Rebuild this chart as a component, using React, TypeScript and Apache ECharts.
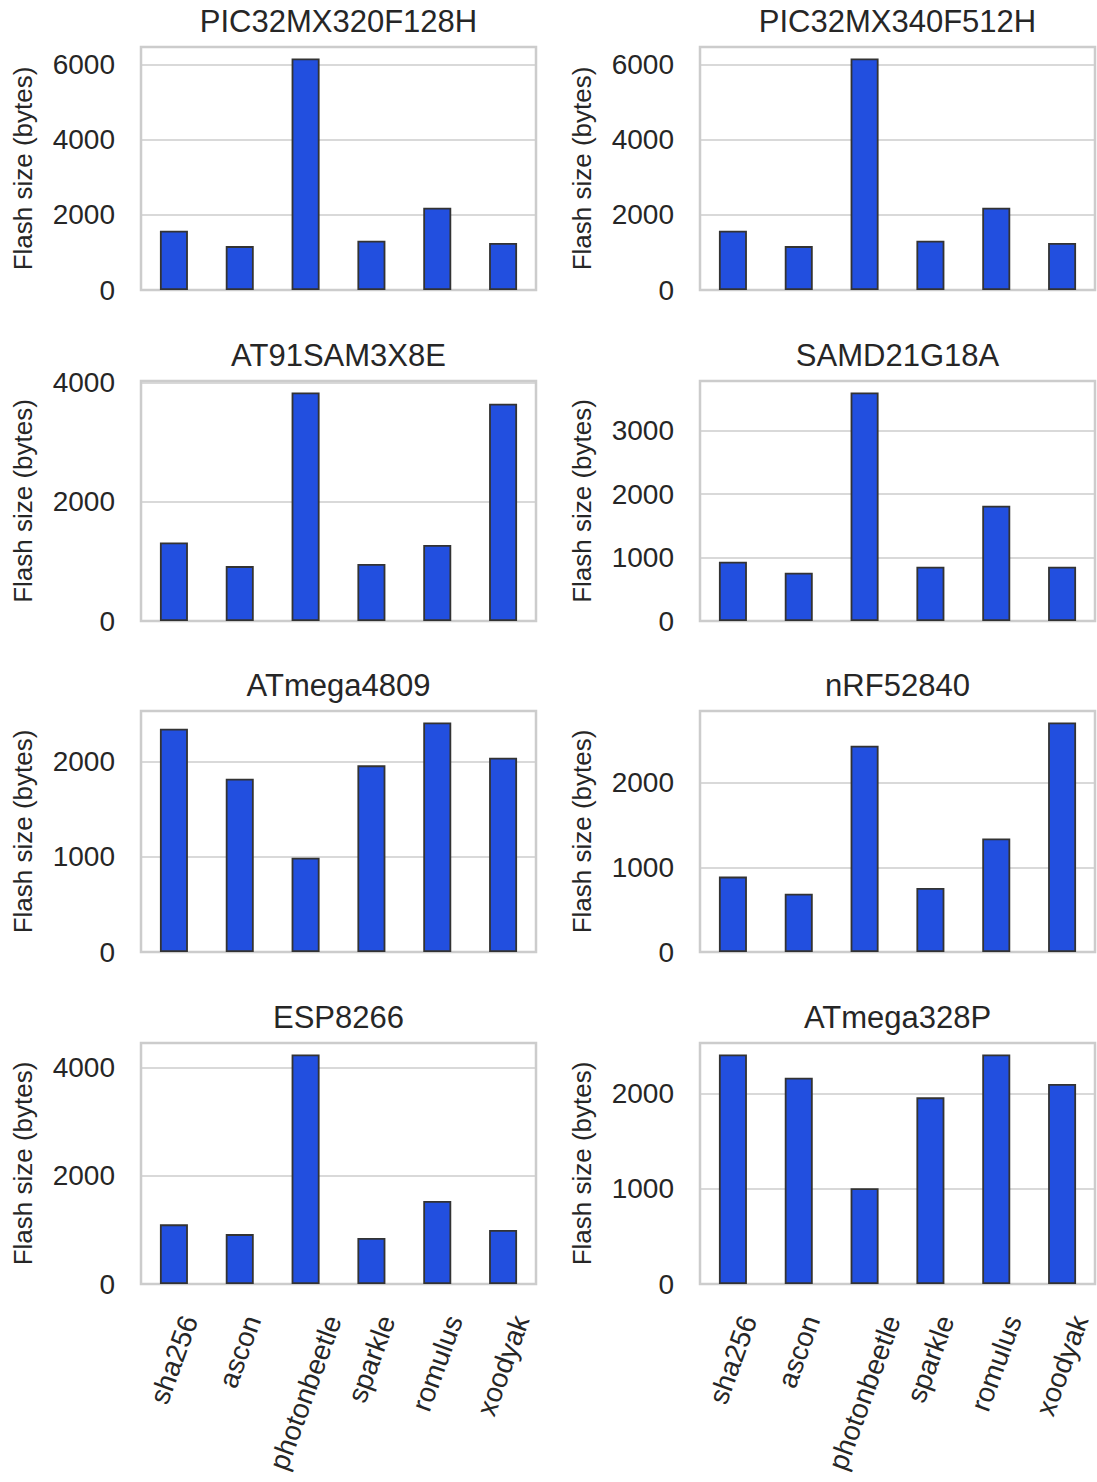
import React, { useEffect, useRef } from 'react';
import * as echarts from 'echarts';

// ---- data ----
const categories = ['sha256', 'ascon', 'photonbeetle', 'sparkle', 'romulus', 'xoodyak'];
const boards = [
  'PIC32MX320F128H',
  'PIC32MX340F512H',
  'AT91SAM3X8E',
  'SAMD21G18A',
  'ATmega4809',
  'nRF52840',
  'ESP8266',
  'ATmega328P',
];
const pic32mx320f128h = [1580, 1170, 6165, 1315, 2190, 1255];
const pic32mx340f512h = [1580, 1170, 6165, 1315, 2190, 1255];
const at91sam3x8e = [1315, 920, 3830, 955, 1275, 3640];
const samd21g18a = [935, 760, 3600, 855, 1815, 855];
const atmega4809 = [2345, 1820, 990, 1960, 2410, 2040];
const nrf52840 = [890, 688, 2435, 755, 1340, 2710];
const esp8266 = [1103, 923, 4245, 851, 1535, 998];
const atmega328p = [2410, 2165, 1005, 1960, 2410, 2100];
const boardValues = [
  pic32mx320f128h,
  pic32mx340f512h,
  at91sam3x8e,
  samd21g18a,
  atmega4809,
  nrf52840,
  esp8266,
  atmega328p,
];
const yIntervals = [2000, 2000, 2000, 1000, 1000, 1000, 2000, 1000];
const yAxisTitle = 'Flash size (bytes)';

// ---- layout / style ----
const FONT = "'Liberation Sans', Arial, Helvetica, sans-serif";
const TEXT = '#262626';
const COL_LEFT = [141, 700];
const GRID_W = 395;
const ROW_TOP = [47, 381, 711, 1043];
const ROW_H = [243, 240, 241, 241];
const TICK_FS = 28;
const ROT = 70;

export default function App() {
  const ref = useRef<HTMLDivElement>(null);

  useEffect(() => {
    const chart = echarts.init(ref.current as HTMLDivElement, null, { renderer: 'svg' });
    const grids: any[] = [];
    const xAxes: any[] = [];
    const yAxes: any[] = [];
    const series: any[] = [];
    const titles: any[] = [];

    boards.forEach((b, k) => {
      const col = k % 2;
      const row = Math.floor(k / 2);
      const vals = boardValues[k];
      const max = Math.max(...vals) * 1.05;
      const interval = yIntervals[k];
      grids.push({
        left: COL_LEFT[col],
        top: ROW_TOP[row],
        width: GRID_W,
        height: ROW_H[row],
        show: true,
        borderColor: '#cccccc',
        borderWidth: 2.5,
        backgroundColor: '#ffffff',
      });
      xAxes.push({
        type: 'category',
        gridIndex: k,
        data: categories,
        axisLine: { show: false },
        axisTick: { show: false },
        axisLabel: { show: false },
        splitLine: { show: false },
      });
      yAxes.push({
        type: 'value',
        gridIndex: k,
        min: 0,
        max,
        interval,
        name: yAxisTitle,
        nameLocation: 'middle',
        nameGap: 105,
        nameTextStyle: { fontSize: 26, color: TEXT, fontFamily: FONT },
        axisLine: { show: false },
        axisTick: { show: false },
        axisLabel: {
          fontSize: TICK_FS,
          color: TEXT,
          fontFamily: FONT,
          margin: 26,
          showMaxLabel: false,
          formatter: (v: number) => (v % interval === 0 ? String(v) : ''),
        },
        splitLine: { lineStyle: { color: '#cccccc', width: 1.6 } },
      });
      series.push({
        type: 'bar',
        xAxisIndex: k,
        yAxisIndex: k,
        data: vals,
        barWidth: 28,
        itemStyle: { color: '#224FDF', borderColor: '#333333', borderWidth: 1.8 },
      });
      titles.push({
        text: b,
        left: COL_LEFT[col] + GRID_W / 2,
        top: ROW_TOP[row] - 41,
        textAlign: 'center',
        padding: 0,
        textStyle: { fontSize: 31, fontWeight: 'normal', color: TEXT, fontFamily: FONT },
      });
    });

    chart.setOption({
      animation: false,
      backgroundColor: '#ffffff',
      title: titles,
      grid: grids,
      xAxis: xAxes,
      yAxis: yAxes,
      series,
    });

    // rotated category labels for the bottom row (matplotlib-style centred bbox)
    const canvas = document.createElement('canvas');
    const ctx = canvas.getContext('2d') as CanvasRenderingContext2D;
    ctx.font = `${TICK_FS}px 'Liberation Sans', Arial, sans-serif`;
    const rad = (ROT * Math.PI) / 180;
    const h = TICK_FS * 1.15;
    const labels: any[] = [];
    [6, 7].forEach((k) => {
      categories.forEach((c) => {
        const p = chart.convertToPixel({ gridIndex: k } as any, [c, 0]) as number[];
        const L = ctx.measureText(c).width;
        const bboxH = L * Math.sin(rad) + h * Math.cos(rad);
        labels.push({
          type: 'text',
          x: p[0],
          y: p[1] + 27 + bboxH / 2,
          rotation: rad,
          style: {
            text: c,
            fontSize: TICK_FS,
            fontFamily: FONT,
            fill: TEXT,
            align: 'center',
            verticalAlign: 'middle',
          },
        });
      });
    });
    chart.setOption({ graphic: labels });

    return () => chart.dispose();
  }, []);

  return (
    <div
      ref={ref}
      style={{ position: 'absolute', left: 0, top: 0, width: 1097, height: 1482, background: '#fff' }}
    />
  );
}
